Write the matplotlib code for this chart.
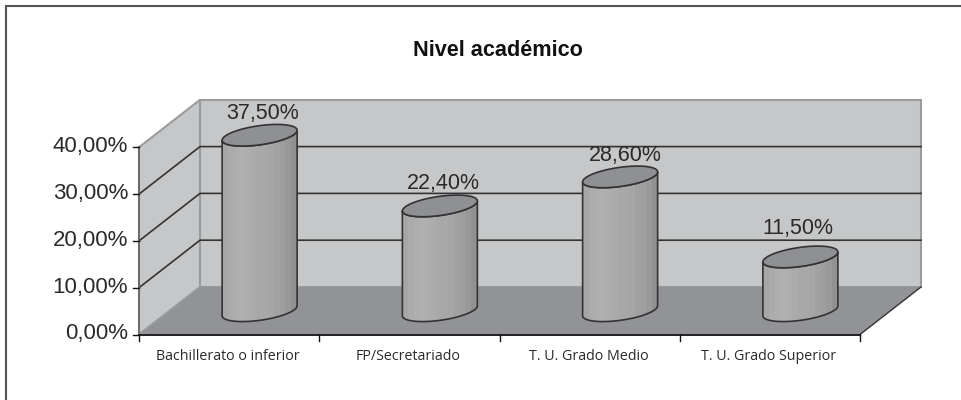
import numpy as np
import matplotlib
matplotlib.use('Agg')
import matplotlib.pyplot as plt
from matplotlib.patches import Polygon

plt.rcParams['font.family'] = ['Liberation Sans']

categories = ['Bachillerato o inferior', 'FP/Secretariado', 'T. U. Grado Medio', 'T. U. Grado Superior']
values = [37.5, 22.4, 28.6, 11.5]
value_labels = ['37,50%', '22,40%', '28,60%', '11,50%']
y_ticks = [0, 10, 20, 30, 40]
y_tick_labels = ['0,00%', '10,00%', '20,00%', '30,00%', '40,00%']
title = 'Nivel académico'

# fake 3d box, everything in picture pixels
x0, x1 = 139, 860
y_zero, px_per_unit = 334.5, 4.68
dx, dy = 61, -47.5
band = (x1 - x0) / len(categories)
wall = '#c6c7c9'
floor = '#929396'
edge = '#333333'
rim = '#9a9b9d'
txt = '#2a2a2a'


def vy(v):
    return y_zero - v * px_per_unit


fig = plt.figure(figsize=(9.61, 4.0), dpi=100)
ax = fig.add_axes([0, 0, 1, 1])
ax.axis('off')

# frame only shows on top and left
ax.plot([6, 6, 961], [400, 6, 6], color='#555555', lw=1.5, solid_joinstyle='miter')

ax.text(498, 50.5, title, ha='center', va='center', fontsize=15.6, fontweight='bold', color='#111111')

# walls and floor
top = y_ticks[-1]
ax.add_patch(Polygon([(x0 + dx, vy(top) + dy), (x1 + dx, vy(top) + dy), (x1 + dx, vy(0) + dy), (x0 + dx, vy(0) + dy)],
                     fc=wall, ec=rim, lw=1.5))
ax.add_patch(Polygon([(x0, vy(top)), (x0 + dx, vy(top) + dy), (x0 + dx, vy(0) + dy), (x0, vy(0))],
                     fc=wall, ec=rim, lw=1.5))
ax.add_patch(Polygon([(x0, vy(0)), (x0 + dx, vy(0) + dy), (x1 + dx, vy(0) + dy), (x1, vy(0))], fc=floor, ec='none'))
ax.plot([x1, x1 + dx], [vy(0), vy(0) + dy], color='#333333', lw=1)

# gridlines
for t in y_ticks[1:-1]:
    ax.plot([x0, x0 + dx, x1 + dx], [vy(t), vy(t) + dy, vy(t) + dy], color=edge, lw=1.2, solid_joinstyle='miter')

# axes and ticks
ax.plot([x0, x0], [vy(top), vy(0)], color='#666666', lw=1.3)
ax.plot([x0, x0 + dx], [vy(0), vy(0) + dy], color=rim, lw=1)
ax.plot([x0, x1], [vy(0), vy(0)], color='#111111', lw=1.3)
for i in range(len(categories) + 1):
    ax.plot([x0 + i * band] * 2, [vy(0), vy(0) + 6], color='#111111', lw=1)
for t, lab in zip(y_ticks, y_tick_labels):
    ax.plot([x0 - 6, x0], [vy(t), vy(t)], color='#111111', lw=1)
    ax.text(x0 - 11, vy(t) - 0.5, lab, ha='right', va='center', fontsize=16, color=txt)
for i, lab in enumerate(categories):
    ax.text(x0 + (i + 0.5) * band - 1, 357, lab, ha='center', va='center', fontsize=10.3, color=txt, family='Open Sans')

# cylinders
shades = np.array([0.65, 0.67, 0.68, 0.69, 0.68, 0.67, 0.66, 0.66, 0.65, 0.63, 0.62, 0.6, 0.57])
t = np.linspace(0, 2 * np.pi, 121)
rx, shear, ry = 37.5, 5.0, 9.6
# hand placed labels in the original, these are the nudges from the bar top
label_nudge = [(2.5, -21.5), (3, -22), (5, -21), (-2, -28)]
for i, (v, lab) in enumerate(zip(values, value_labels)):
    cx = x0 + (i + 0.5) * band + dx / 2
    base = vy(0) + dy / 2
    head = vy(v) + dy / 2
    ex = rx * np.cos(t)
    ey = -shear * np.cos(t) + ry * np.sin(t)
    # front half of the ellipse, from right end round to the left end
    front = t <= np.pi
    body_x = np.r_[cx + ex[front], cx + ex[front][::-1]]
    body_y = np.r_[base + ey[front], head + ey[front][::-1]]
    body = Polygon(np.c_[body_x, body_y], fc='none', ec=edge, lw=1.2, zorder=4)
    im = ax.imshow(shades[None, :], cmap='gray', vmin=0, vmax=1, aspect='auto', zorder=3,
                   extent=(cx - rx, cx + rx, base + 15, head - 15), interpolation='nearest')
    ax.add_patch(body)
    im.set_clip_path(body)
    ax.fill(cx + ex, head + ey, fc='#8f9093', ec=edge, lw=1.2, zorder=5)
    ax.text(cx + label_nudge[i][0], head + label_nudge[i][1], lab, ha='center', va='center',
            fontsize=15.5, color=txt, zorder=6)

ax.set_xlim(0, 961)
ax.set_ylim(400, 0)
fig.savefig('out.png', dpi=100)
